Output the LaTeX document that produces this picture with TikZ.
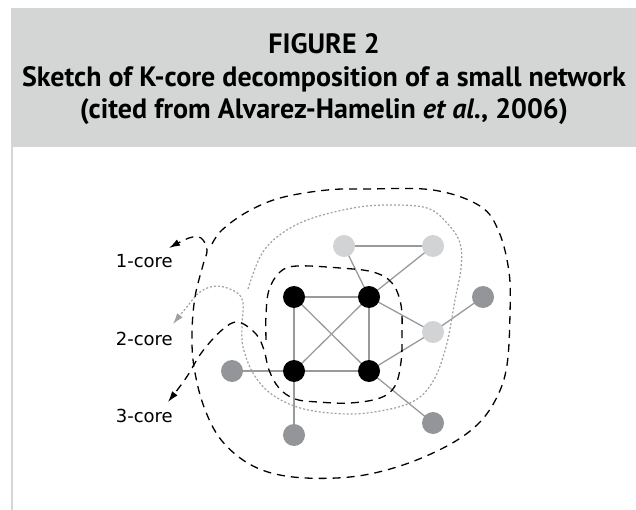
\documentclass[tikz,border=0pt]{standalone}
\usepackage{fontspec}
\newfontfamily\hdr{PT Sans}
\newfontfamily\lbl{DejaVu Sans}
\usetikzlibrary{arrows.meta}
\pgfdeclarelayer{bg}
\pgfsetlayers{bg,main}
\definecolor{hdrgray}{HTML}{D4D5D5}
\definecolor{lightnode}{HTML}{D1D3D4}
\definecolor{darknode}{HTML}{939598}
\definecolor{edgegray}{HTML}{9A9A9A}
\definecolor{dotgray}{HTML}{A0A0A0}
\definecolor{rulegray}{HTML}{D6D6D6}
\tikzset{
  vtx/.style={circle,inner sep=0pt,minimum size=22pt},
  core/.style={vtx,fill=black},
  shell/.style={vtx,fill=lightnode},
  leaf/.style={vtx,fill=darknode},
  edge/.style={draw=edgegray,line width=1.3pt},
  outerdash/.style={draw=black,line width=1.3pt,dash pattern=on 8pt off 6pt},
  innerdash/.style={draw=black,line width=1.3pt,dash pattern=on 8pt off 6pt},
  dotline/.style={draw=dotgray,line width=1.2pt,dash pattern=on 2pt off 2pt},
  blackhead/.style={-{Latex[length=11pt,width=7pt]}},
  grayhead/.style={-{Latex[length=11pt,width=7pt,fill=dotgray]}},
  hline/.style={font=\hdr\bfseries\fontsize{28}{32}\selectfont,anchor=base},
  corelabel/.style={font=\lbl\fontsize{18}{22}\selectfont,anchor=base east,inner sep=0pt},
}
\begin{document}
\begin{tikzpicture}[x=1pt,y=-1pt]
\useasboundingbox (0,0) rectangle (636,510);
\fill[hdrgray] (11,8) rectangle (636,147);
\draw[rulegray,line width=1.5pt] (11.75,147) -- (11.75,510);
\node[hline] (t1) at (324,54) {FIGURE 2};
\node[hline] (t2) at (324,87) {Sketch of K-core decomposition of a small network};
\node[hline] (t3) at (324,119) {(cited from Alvarez-Hamelin \textit{et al}., 2006)};
% labels
\node[corelabel] (l1) at (173,268) {1-core};
\node[corelabel] (l2) at (173,345) {2-core};
\node[corelabel] (l3) at (173,422) {3-core};
% nodes
\node[core] (a) at (294,297) {};
\node[core] (b) at (369,297) {};
\node[core] (c) at (294,371) {};
\node[core] (d) at (369,371) {};
\node[shell] (e) at (344,246) {};
\node[shell] (f) at (433,246) {};
\node[shell] (g) at (433,332) {};
\node[leaf] (h) at (483,297) {};
\node[leaf] (i) at (433,423) {};
\node[leaf] (j) at (232,371) {};
\node[leaf] (k) at (294,435) {};
\begin{pgfonlayer}{bg}
\foreach \u/\v in {a/b,a/c,a/d,b/c,b/d,c/d,e/b,e/f,f/b,b/g,d/g,g/h,d/i,c/j,c/k}
  \draw[edge] (\u.center) -- (\v.center);
\end{pgfonlayer}
% 2-core dotted
\draw[dotline,grayhead] plot[smooth,tension=0.6] coordinates {
 (248,289) (260,257) (277,237) (307,220) (353,208) (390,205) (427,208) (447,223)
 (460,243) (461,268) (455,300) (446,347) (432,383) (410,403) (367,413) (330,413)
 (297,407) (270,393) (253,373) (243,347) (242,325) (243,303) (236,292) (217,286)
 (200,292) (186,308) (173,324)};
% 3-core dashed
\draw[innerdash,blackhead] plot[smooth,tension=0.6] coordinates {
 (266,340) (266,315) (269,290) (280,272) (297,266) (340,268) (373,272) (392,283)
 (401,305) (402,335) (401,362) (395,386) (380,398) (350,403) (318,402) (295,399)
 (279,388) (269,370) (264,350) (256,334) (238,322) (222,330) (202,352) (186,378)
 (168,402)};
% 1-core dashed
\draw[outerdash,blackhead] plot[smooth,tension=0.6] coordinates {
 (212,244) (222,230) (247,212) (280,198) (327,190) (367,189) (433,190) (480,206)
 (499,232) (509,272) (510,313) (507,365) (497,397) (478,424) (447,446) (400,466)
 (350,477) (293,477) (253,466) (222,441) (204,407) (194,367) (192,333) (195,297)
 (203,265) (207,250) (201,238) (189,238) (169,248)};
\end{tikzpicture}
\end{document}
